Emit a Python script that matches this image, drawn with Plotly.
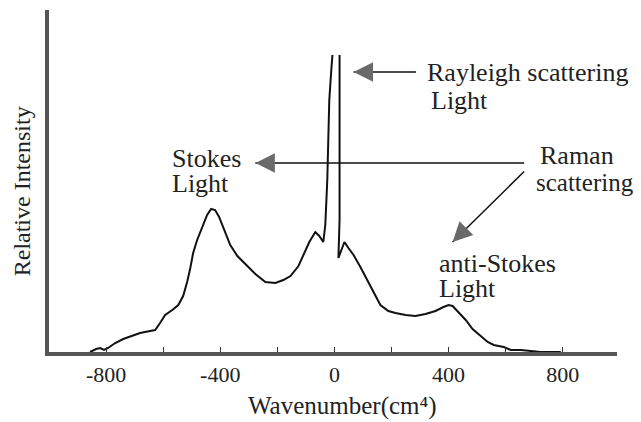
import plotly.graph_objects as go

# Raman spectrum (relative intensity, arbitrary units)
wavenumber = [-856, -835, -821, -807, -793, -768, -740, -709, -681, -646, -628, -611, -593,
              -568, -547, -530, -516, -505, -495, -481, -463, -446, -432, -418, -404, -386,
              -365, -340, -312, -277, -242, -207, -179, -154, -126, -105, -88, -67, -53, -39,
              -32, -25, -21, -18, -11, -7, None, 18, 18, 18, 18, 14, 25, 35, 49, 67, 91, 116,
              137, 161, 189, 214, 249, 284, 319, 354, 382, 400, 414, 435, 460, 484, 512, 537,
              558, 593, 618, 653, 688, 723, 793]
intensity = [0, 3, 4, 2, 4, 9, 13, 16, 19, 21, 22, 29, 37,
             42, 47, 56, 70, 84, 99, 112, 124, 137, 143, 142, 135, 122,
             107, 96, 88, 78, 70, 69, 72, 76, 86, 100, 110, 120, 116, 110,
             127, 172, 212, 252, 282, 297, None, 297, 252, 192, 132, 94, 102, 110, 104, 97, 85, 71,
             59, 47, 41, 39, 37, 36, 38, 41, 45, 47, 46, 40, 32, 23, 16, 10,
             7, 5, 2, 2, 1, 0, 0]

tick_values = [-800, -600, -400, -200, 0, 200, 400, 600, 800]
tick_labels = ["-800", "", "-400", "", "0", "", "400", "", "800"]

FONT = "Liberation Serif"
TXT = "#222222"

fig = go.Figure()
fig.add_trace(go.Scatter(x=wavenumber, y=intensity, mode="lines",
                         line=dict(color="#111111", width=2),
                         connectgaps=False, hoverinfo="skip", showlegend=False))

# page body has an 8px default margin, so the figure is 8px smaller
fig.update_layout(
    width=633, height=414,
    margin=dict(l=41, r=24, t=2, b=70),
    plot_bgcolor="white", paper_bgcolor="white",
    font=dict(family=FONT, color=TXT),
    showlegend=False,
)
fig.update_xaxes(range=[-1000, 990], tickmode="array", tickvals=tick_values,
                 ticktext=tick_labels, ticks="inside", ticklen=5, tickcolor="#333",
                 tickfont=dict(size=22, family=FONT, color=TXT),
                 showline=True, linewidth=4, linecolor="#555555",
                 showgrid=False, zeroline=False)
fig.update_yaxes(range=[0, 342], showticklabels=False, ticks="",
                 showline=True, linewidth=4, linecolor="#555555",
                 showgrid=False, zeroline=False)

def label(text, x, y, xanchor="left", size=26):
    fig.add_annotation(x=x, y=y, xref="x", yref="y", text=text, showarrow=False,
                       xanchor=xanchor, yanchor="middle",
                       font=dict(size=size, family=FONT, color=TXT))

label("Rayleigh scattering", 319, 280)
label("Light", 330, 252)
label("Stokes", -575, 194)
label("Light", -575, 169)
label("Raman", 849, 197, xanchor="center")
label("scattering", 878, 170, xanchor="center", size=25)
label("anti-Stokes", 361, 89)
label("Light", 361, 64)

def arrow(x0, y0, x1, y1, hx, hy):
    # shaft
    fig.add_annotation(x=x1, y=y1, ax=x0, ay=y0, xref="x", yref="y", axref="x", ayref="y",
                       text="", showarrow=True, arrowhead=0, arrowwidth=1.5,
                       arrowcolor="#111111")
    # gray head (offset in pixels)
    fig.add_annotation(x=x1, y=y1, ax=hx, ay=hy, xref="x", yref="y",
                       text="", showarrow=True, arrowhead=2, arrowsize=2.6, arrowwidth=1.5,
                       arrowcolor="#6a6a6a")

arrow(291, 280, 67, 280, 20, 0)        # Rayleigh
arrow(670, 189, -277, 189, 20, 0)      # Raman -> Stokes
arrow(670, 182, 414, 110, 14, -14)     # Raman -> anti-Stokes

fig.add_annotation(x=28, y=-0.158, xref="x", yref="paper", text="Wavenumber(cm⁴)",
                   showarrow=False, xanchor="center", yanchor="middle",
                   font=dict(size=25, family=FONT, color=TXT))
fig.add_annotation(x=-0.0475, y=0.47, xref="paper", yref="paper", text="Relative Intensity",
                   showarrow=False, textangle=-90, xanchor="center", yanchor="middle",
                   font=dict(size=24, family=FONT, color=TXT))

fig.write_html("out.html")
